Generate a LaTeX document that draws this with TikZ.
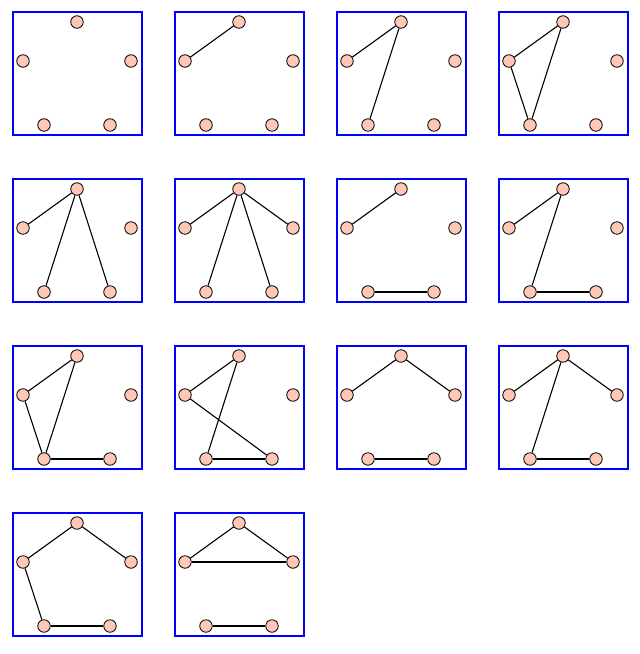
\documentclass[tikz,border=0pt]{standalone}
\definecolor{vfill}{RGB}{255,200,182}
\begin{document}
\begin{tikzpicture}[x=1pt,y=-1pt,
  vtx/.style={circle,draw=black,fill=vfill,line width=0.8pt,minimum size=12.5pt,inner sep=0pt},
  frame/.style={draw=blue,line width=1.4pt},
  edge/.style={draw=black,line width=1.1pt}]
\useasboundingbox (0,0) rectangle (640,654);
\foreach \i/\c/\r in {1/0/0,2/1/0,3/2/0,4/3/0,5/0/1,6/1/1,7/2/1,8/3/1,9/0/2,10/1/2,11/2/2,12/3/2,13/0/3,14/1/3} {
  \pgfmathsetmacro\xo{13+162*\c}
  \pgfmathsetmacro\yo{12+167*\r}
  \draw[frame] (\xo,\yo) rectangle ++(129,123);
  \node[vtx] (p\i-T) at (\xo+64,\yo+10) {};
  \node[vtx] (p\i-L) at (\xo+10,\yo+49) {};
  \node[vtx] (p\i-R) at (\xo+118,\yo+49) {};
  \node[vtx] (p\i-BL) at (\xo+31,\yo+113) {};
  \node[vtx] (p\i-BR) at (\xo+97,\yo+113) {};
}
% panel 2
\draw[edge] (p2-T) -- (p2-L);
% panel 3
\draw[edge] (p3-T) -- (p3-L);
\draw[edge] (p3-T) -- (p3-BL);
% panel 4
\draw[edge] (p4-T) -- (p4-L);
\draw[edge] (p4-T) -- (p4-BL);
\draw[edge] (p4-L) -- (p4-BL);
% panel 5
\draw[edge] (p5-T) -- (p5-L);
\draw[edge] (p5-T) -- (p5-BL);
\draw[edge] (p5-T) -- (p5-BR);
% panel 6
\draw[edge] (p6-T) -- (p6-L);
\draw[edge] (p6-T) -- (p6-BL);
\draw[edge] (p6-T) -- (p6-BR);
\draw[edge] (p6-T) -- (p6-R);
% panel 7
\draw[edge] (p7-T) -- (p7-L);
\draw[edge] (p7-BL) -- (p7-BR);
% panel 8
\draw[edge] (p8-T) -- (p8-L);
\draw[edge] (p8-T) -- (p8-BL);
\draw[edge] (p8-BL) -- (p8-BR);
% panel 9
\draw[edge] (p9-T) -- (p9-L);
\draw[edge] (p9-T) -- (p9-BL);
\draw[edge] (p9-L) -- (p9-BL);
\draw[edge] (p9-BL) -- (p9-BR);
% panel 10
\draw[edge] (p10-T) -- (p10-L);
\draw[edge] (p10-T) -- (p10-BL);
\draw[edge] (p10-L) -- (p10-BR);
\draw[edge] (p10-BL) -- (p10-BR);
% panel 11
\draw[edge] (p11-T) -- (p11-L);
\draw[edge] (p11-T) -- (p11-R);
\draw[edge] (p11-BL) -- (p11-BR);
% panel 12
\draw[edge] (p12-T) -- (p12-L);
\draw[edge] (p12-T) -- (p12-R);
\draw[edge] (p12-T) -- (p12-BL);
\draw[edge] (p12-BL) -- (p12-BR);
% panel 13
\draw[edge] (p13-T) -- (p13-L);
\draw[edge] (p13-T) -- (p13-R);
\draw[edge] (p13-L) -- (p13-BL);
\draw[edge] (p13-BL) -- (p13-BR);
% panel 14
\draw[edge] (p14-T) -- (p14-L);
\draw[edge] (p14-T) -- (p14-R);
\draw[edge] (p14-L) -- (p14-R);
\draw[edge] (p14-BL) -- (p14-BR);
\end{tikzpicture}
\end{document}
